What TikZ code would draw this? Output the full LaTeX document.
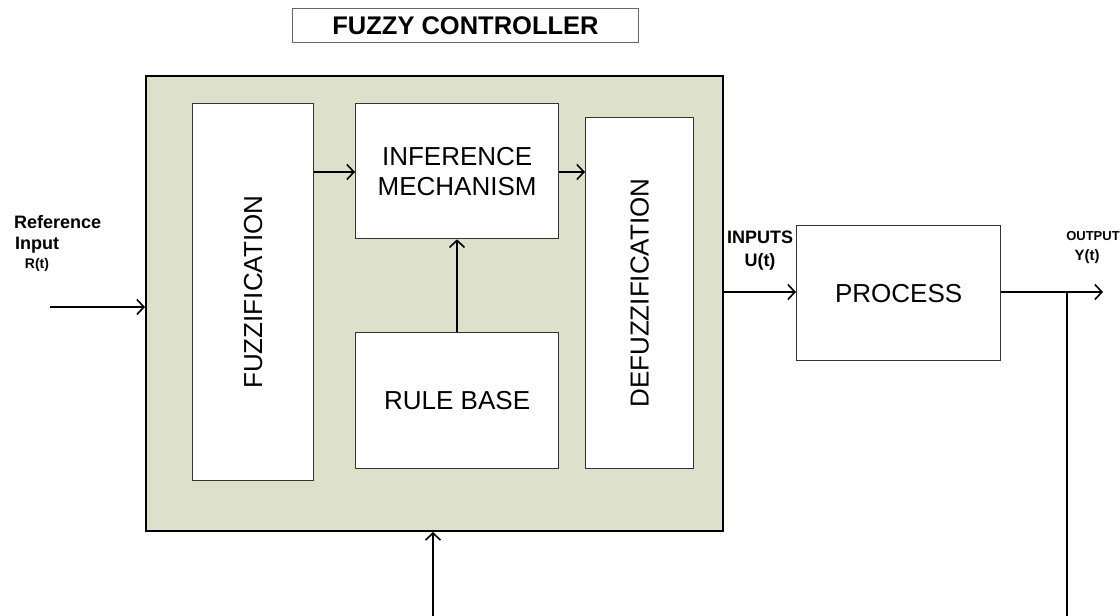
\documentclass[tikz,border=0pt]{standalone}
\usepackage{fontspec}
\setmainfont{Liberation Sans}
\usetikzlibrary{arrows.meta}
\definecolor{ctrlfill}{RGB}{221,224,203}

\begin{document}
\begin{tikzpicture}[x=1pt, y=-1pt,
		blk/.style={draw=black!80, line width=1.3pt, fill=white, anchor=north west, inner sep=0pt},
		lbl/.style={font=\fontsize{26}{30}\selectfont, align=center},
		tag/.style={font=\bfseries\fontsize{18}{21}\selectfont, inner sep=0pt},
		flow/.style={line width=1.8pt, -{Straight Barb[length=7pt, width=15pt, line width=1.6pt]}}]
		%%%%% START %%%%%
		\useasboundingbox (0, 0) rectangle (1120, 616);
		
		% title
		\node[draw=black!60, line width=1pt, minimum width=346pt, minimum height=34pt, anchor=north west, inner sep=0pt,
			font=\bfseries\fontsize{25.5}{29}\selectfont] (title) at (292, 8) {FUZZY CONTROLLER};
		
		% controller frame
		\node[draw=black, line width=2pt, fill=ctrlfill, minimum width=577pt, minimum height=455pt,
			anchor=north west, inner sep=0pt] (ctrl) at (145, 75) {};
		
		\node[blk, minimum width=121pt, minimum height=377pt] (fuzz) at (192, 103) {};
		\node[lbl, rotate=90] at (fuzz.center) {FUZZIFICATION};
		
		\node[blk, minimum width=203pt, minimum height=135pt] (infer) at (355, 103) {};
		\node[lbl] at (infer.center) {INFERENCE\\MECHANISM};
		
		\node[blk, minimum width=203pt, minimum height=136pt] (rules) at (355, 332) {};
		\node[lbl] at (rules.center) {RULE BASE};
		
		\node[blk, minimum width=108pt, minimum height=351pt] (defuzz) at (585, 117) {};
		\node[lbl, rotate=90] at (defuzz.center) {DEFUZZIFICATION};
		
		\node[blk, minimum width=204pt, minimum height=135pt] (proc) at (796, 225) {};
		\node[lbl] at (proc.center) {PROCESS};
		
		% signal labels
		\node[tag, anchor=west] (refa) at (14, 222) {Reference};
		\node[tag, anchor=west] (refb) at (15, 245) {Input};
		\node[tag, font=\bfseries\fontsize{14}{16}\selectfont] (rt) at (37, 265) {R(t)};
		\node[tag] (inpa) at (760, 237) {INPUTS};
		\node[tag] (inpb) at (760, 262) {U(t)};
		\node[tag, font=\bfseries\fontsize{13}{15}\selectfont] (outa) at (1093, 236) {OUTPUT};
		\node[tag, font=\bfseries\fontsize{15}{17}\selectfont] (outb) at (1087, 257) {Y(t)};
		
		% free ends
		\coordinate (rin) at (50, 307);
		\coordinate (yout) at (1103, 292);
		\coordinate (ytap) at (1067, 292);
		\coordinate (fbk) at (1067, 616);
		\coordinate (dist) at (433, 616);
		
		% connectors
		\draw[flow, line width=1.5pt] (fuzz.east |- 0, 172) -- (infer.west |- 0, 172);
		\draw[flow, line width=1.5pt] (infer.east |- 0, 172) -- (defuzz.west |- 0, 172);
		\draw[flow, line width=1.5pt] (rules.north -| 457, 0) -- (infer.south -| 457, 0);
		\draw[flow] (rin) -- (ctrl.west |- rin);
		\draw[flow] (ctrl.east |- 0, 292) -- (proc.west |- 0, 292);
		\draw[flow] (proc.east |- 0, 292) -- (yout);
		\draw[line width=2pt] (ytap) -- (fbk);
		\draw[flow] (dist) -- (ctrl.south -| dist);
		%%%%% END %%%%%
\end{tikzpicture}
\end{document}
